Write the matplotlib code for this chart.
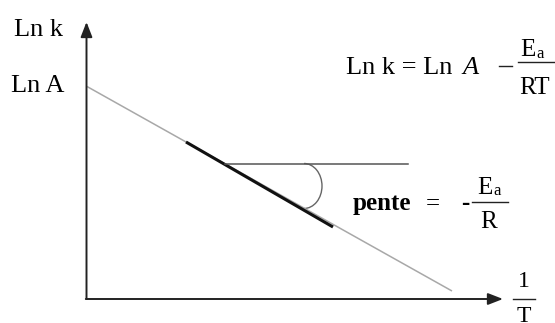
import matplotlib
matplotlib.use("Agg")
import matplotlib.pyplot as plt
from matplotlib.patches import Arc

# Arrhenius diagram, drawn in a pixel-like coordinate frame (y grows downward)
origin = (86.5, 299)
y_axis_tip = (86.5, 22)
x_axis_tip = (503, 299)

# straight line Ln k = f(1/T)
fit_x = [87, 452]
fit_y = [86.5, 291]

# thicker segment where the measurements lie
seg_x = [186, 333]
seg_y = [142, 227]

# horizontal reference line for the slope angle
hline_x = [225, 408]
hline_y = [163.5, 163.5]

# angle arc between the horizontal line and the fit line
arc_center = (304, 186)
arc_size = (36, 45)

serif = "Liberation Serif"

fig = plt.figure(figsize=(5.55, 3.23), dpi=100)
ax = fig.add_axes([0, 0, 1, 1])
ax.set_xlim(0, 555)
ax.set_ylim(323, 0)
ax.axis("off")

ax.plot(fit_x, fit_y, color="#a8a8a8", lw=1.1, solid_capstyle="butt")
ax.plot(seg_x, seg_y, color="#111111", lw=2.2, solid_capstyle="butt")
ax.plot(hline_x, hline_y, color="#555555", lw=1.1)
ax.add_patch(Arc(arc_center, arc_size[0], arc_size[1], theta1=-90, theta2=90,
                 color="#666666", lw=1.0))

# axes with arrow heads
arrow = dict(arrowstyle="-|>,head_length=0.9,head_width=0.35", color="#222222",
             lw=1.4, shrinkA=0, shrinkB=0)
ax.annotate("", xy=y_axis_tip, xytext=origin, arrowprops=arrow)
ax.annotate("", xy=x_axis_tip, xytext=(origin[0] - 0.7, origin[1]), arrowprops=arrow)

# axis labels
ax.text(14, 36.5, "Ln k", fontsize=19, family=serif, va="baseline")
ax.text(11, 91.5, "Ln A", fontsize=19, family=serif, va="baseline")
ax.text(524, 287, "1", fontsize=17, family=serif, ha="center", va="baseline")
ax.plot([513, 535], [299, 299], color="#222222", lw=1.0)
ax.text(524, 322, "T", fontsize=17, family=serif, ha="center", va="baseline")

# Arrhenius equation
ax.text(346, 73.5, "Ln k = Ln", fontsize=19, family=serif, va="baseline")
ax.text(462, 73.5, "A", fontsize=19, family=serif, style="italic", va="baseline")
ax.plot([499, 512], [66, 66], color="#222222", lw=1.0)
ax.text(535, 56.5, "E", fontsize=18, family=serif, ha="right", va="baseline")
ax.text(536, 58, "a", fontsize=12, family=serif, va="baseline")
ax.plot([518, 555], [62, 62], color="#222222", lw=1.0)
ax.text(535, 93.5, "RT", fontsize=18, family=serif, ha="center", va="baseline")

# slope annotation
ax.text(353, 210, "pente", fontsize=18, family=serif, weight="bold", va="baseline")
ax.text(432.5, 210, "=", fontsize=18, family=serif, ha="center", va="baseline")
ax.text(465, 210, "-", fontsize=18, family=serif, weight="bold", ha="center", va="baseline")
ax.text(492, 193.5, "E", fontsize=18, family=serif, ha="right", va="baseline")
ax.text(493, 195, "a", fontsize=12, family=serif, va="baseline")
ax.plot([472, 508], [202, 202], color="#222222", lw=1.0)
ax.text(489, 228.5, "R", fontsize=18, family=serif, ha="center", va="baseline")

fig.savefig("out.png", dpi=100)
